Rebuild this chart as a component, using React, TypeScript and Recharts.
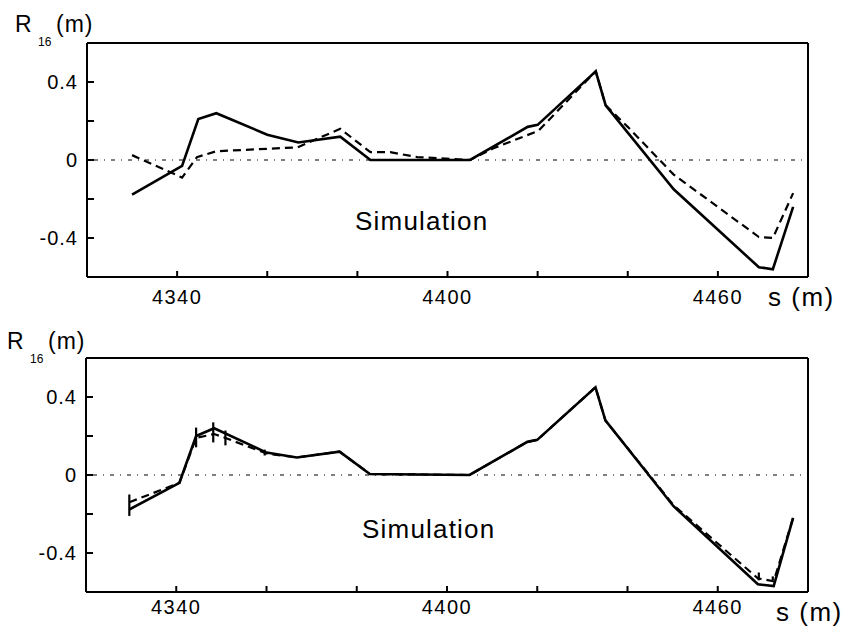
import React from "react";
import {
  ComposedChart,
  Line,
  Scatter,
  ErrorBar,
  XAxis,
  YAxis,
  ReferenceLine,
} from "recharts";

// top panel
const topSolidS = [4330, 4341.1, 4344.7, 4348.7, 4360, 4366.9, 4376.2, 4382.9, 4405, 4417.8, 4420, 4432.9, 4435.1, 4450.2, 4469.1, 4472.2, 4476.7];
const topSolidR = [-0.177, -0.03, 0.21, 0.24, 0.13, 0.09, 0.12, 0, 0, 0.17, 0.18, 0.455, 0.28, -0.15, -0.55, -0.56, -0.24];
const topDashS = [4330, 4341.1, 4344.4, 4348.7, 4366.7, 4376.2, 4382.9, 4387.3, 4393.3, 4405, 4410.2, 4420.2, 4432.9, 4435.1, 4440, 4450.2, 4469.1, 4472.2, 4476.7];
const topDashR = [0.025, -0.09, 0.015, 0.045, 0.065, 0.16, 0.04, 0.04, 0.015, 0, 0.06, 0.15, 0.455, 0.28, 0.17, -0.075, -0.395, -0.4, -0.17];

// bottom panel
const botSolidS = [4329.6, 4340.7, 4344.4, 4348.4, 4360, 4366.7, 4376.2, 4382.9, 4405, 4417.8, 4420, 4432.9, 4435.1, 4450.2, 4468.9, 4472.4, 4476.7];
const botSolidR = [-0.177, -0.04, 0.2, 0.24, 0.115, 0.09, 0.12, 0.005, 0, 0.17, 0.18, 0.45, 0.28, -0.16, -0.56, -0.57, -0.22];
const botDashS = [4329.6, 4340.7, 4344.4, 4348.4, 4350.9, 4360, 4366.7, 4376.2, 4382.9, 4405, 4417.8, 4420, 4432.9, 4435.1, 4450.2, 4468.9, 4472.4, 4476.7];
const botDashR = [-0.14, -0.04, 0.19, 0.21, 0.19, 0.11, 0.09, 0.12, 0.005, 0, 0.17, 0.18, 0.45, 0.28, -0.155, -0.53, -0.545, -0.22];
const barS = [4329.6, 4344.4, 4348.2, 4350.9, 4359.6, 4469.1, 4472.2];
const barLo = [-0.21, 0.142, 0.167, 0.152, 0.1, -0.54, -0.54];
const barHi = [-0.1, 0.243, 0.27, 0.228, 0.13, -0.5, -0.52];

const xTicks = [4340, 4360, 4380, 4400, 4420, 4440, 4460];
const xLabels = [4340, 4400, 4460];
const yTicks = [-0.4, -0.2, 0, 0.2, 0.4];
const yLabels = [-0.4, 0, 0.4];

const zip = (s: number[], r: number[]) => s.map((v, i) => ({ s: v, r: r[i] }));
const bars = barS.map((s, i) => {
  const mid = (barLo[i] + barHi[i]) / 2;
  return { s, r: mid, err: [mid - barLo[i], barHi[i] - mid] };
});

const font = "'Liberation Sans', Arial, sans-serif";
const tickStyle = { fontSize: 20, fill: "#000", fontFamily: font, letterSpacing: 1.5 };
const axisLine = { stroke: "#000", strokeWidth: 2 };
const tickLine = { stroke: "#000", strokeWidth: 2 };

function Panel({ solid, dashed, withBars, xLabelGap, leftW }: any) {
  return (
    <ComposedChart width={843} height={320} margin={{ top: 3, right: 0, bottom: 0, left: 0 }}>
      <XAxis
        type="number"
        dataKey="s"
        domain={[4320, 4480]}
        ticks={xTicks}
        allowDataOverflow
        height={43}
        tickSize={-6}
        tickMargin={xLabelGap}
        axisLine={axisLine}
        tickLine={tickLine}
        tick={tickStyle}
        tickFormatter={(v) => (xLabels.includes(v) ? String(v) : "")}
      />
      <XAxis
        xAxisId={1}
        orientation="top"
        type="number"
        dataKey="s"
        domain={[4320, 4480]}
        ticks={xTicks}
        allowDataOverflow
        height={40}
        tickSize={-6}
        axisLine={axisLine}
        tickLine={tickLine}
        tick={false}
      />
      <YAxis
        type="number"
        domain={[-0.6, 0.6]}
        ticks={yTicks}
        allowDataOverflow
        width={leftW}
        tickSize={-7}
        tickMargin={16}
        axisLine={axisLine}
        tickLine={tickLine}
        tick={{ ...tickStyle, letterSpacing: 1 }}
        tickFormatter={(v) => (yLabels.includes(v) ? String(v) : "")}
      />
      <YAxis
        yAxisId={1}
        orientation="right"
        type="number"
        domain={[-0.6, 0.6]}
        ticks={yTicks}
        allowDataOverflow
        width={35}
        tickSize={-6}
        axisLine={axisLine}
        tickLine={tickLine}
        tick={false}
      />
      {/* invisible series so the top and right axes get drawn */}
      <Line
        data={solid}
        dataKey="r"
        xAxisId={1}
        yAxisId={1}
        stroke="none"
        dot={false}
        activeDot={false}
        isAnimationActive={false}
      />
      <ReferenceLine y={0} stroke="#000" strokeWidth={1} strokeDasharray="1 6 4 6" />
      <Line
        data={dashed}
        dataKey="r"
        type="linear"
        stroke="#000"
        strokeWidth={2.2}
        strokeDasharray="8 5"
        dot={false}
        isAnimationActive={false}
      />
      <Line
        data={solid}
        dataKey="r"
        type="linear"
        stroke="#000"
        strokeWidth={2.6}
        dot={false}
        isAnimationActive={false}
      />
      {withBars && (
        <Scatter data={bars} dataKey="r" shape={() => <g />} isAnimationActive={false}>
          <ErrorBar dataKey="err" direction="y" width={0} stroke="#000" strokeWidth={2.2} />
        </Scatter>
      )}
    </ComposedChart>
  );
}

const abs = (left: number, top: number, size: number, extra: any = {}) => ({
  position: "absolute" as const,
  left,
  top,
  fontSize: size,
  lineHeight: `${size}px`,
  fontFamily: font,
  color: "#000",
  whiteSpace: "nowrap" as const,
  ...extra,
});

function YTitle({ x, y }: { x: number; y: number }) {
  return (
    <>
      <div style={abs(x, y - 1, 23, { letterSpacing: 1 })}>R</div>
      <div style={abs(x + 23, y + 22, 12)}>16</div>
      <div style={abs(x + 41, y - 1, 23, { letterSpacing: 1 })}>(m)</div>
    </>
  );
}

export default function App() {
  return (
    <div style={{ position: "absolute", left: 0, top: 0, width: 843, height: 633, background: "#fff", overflow: "hidden" }}>
      <div style={{ position: "absolute", left: 0, top: 0 }}>
        <Panel solid={zip(topSolidS, topSolidR)} dashed={zip(topDashS, topDashR)} xLabelGap={19} leftW={87} />
      </div>
      <div style={{ position: "absolute", left: 0, top: 315 }}>
        <Panel solid={zip(botSolidS, botSolidR)} dashed={zip(botDashS, botDashR)} withBars xLabelGap={14} leftW={86} />
      </div>
      <YTitle x={15} y={14} />
      <YTitle x={7} y={331} />
      <div style={abs(768, 284, 26, { letterSpacing: 1.5 })}>s (m)</div>
      <div style={abs(776, 599, 26, { letterSpacing: 1.5 })}>s (m)</div>
      <div style={abs(355, 208, 26, { letterSpacing: 1.2 })}>Simulation</div>
      <div style={abs(362, 516, 26, { letterSpacing: 1.2 })}>Simulation</div>
    </div>
  );
}
